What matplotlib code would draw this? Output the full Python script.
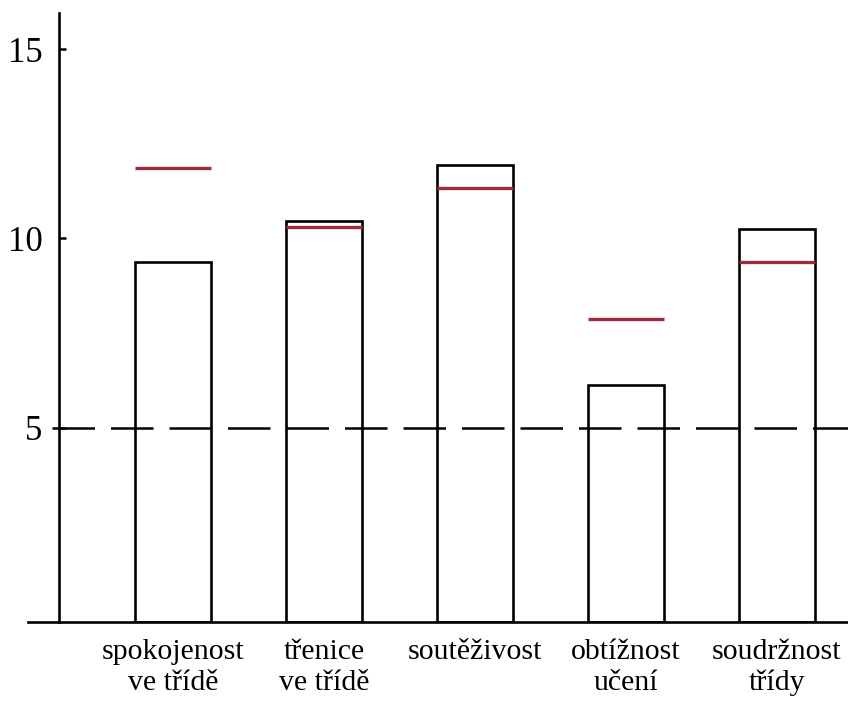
import matplotlib.pyplot as plt
import numpy as np

categories = ['spokojenost\nve třídě', 'třenice\nve třídě', 'soutěživost',
              'obtížnost\nučení', 'soudržnost\ntřídy']
bar_values = [9.38, 10.47, 11.95, 6.13, 10.26]
red_values = [11.87, 10.29, 11.32, 7.87, 9.37]
ref_level = 5
y_ticks = [5, 10, 15]

plt.rcParams['font.family'] = ['Liberation Serif', 'DejaVu Serif']

fig = plt.figure(figsize=(8.48, 7.01), dpi=100)
ax = fig.add_axes([28 / 848, 1 - 622 / 701, 1 - 28 / 848, (622 - 13) / 701])

x = np.arange(len(categories))
width = 0.5
y0 = -0.12  # baseline line sits a little under zero in the drawing

ax.bar(x, np.array(bar_values) - y0, bottom=y0, width=width,
       facecolor='white', edgecolor='black', linewidth=1.9, zorder=2)
ax.hlines(red_values, x - width / 2, x + width / 2, color='#9e2a3e',
          linewidth=2.4, zorder=3)

# dashed reference line at 5, drawn across the bars
ax.plot([-0.80, 4.47], [ref_level, ref_level], color='black', linewidth=1.8,
        dashes=(17, 6.4), zorder=4, clip_on=False)

ax.set_xlim(-0.96, 4.47)
ax.set_ylim(y0, 15.95)

for s in ['top', 'right']:
    ax.spines[s].set_visible(False)
ax.spines['left'].set_position(('data', -0.755))
ax.spines['left'].set_linewidth(1.9)
ax.spines['bottom'].set_linewidth(1.9)

ax.set_yticks(y_ticks)
ax.set_yticklabels([str(t) for t in y_ticks], fontsize=25)
ax.tick_params(axis='y', direction='in', length=5, width=1.8, pad=12)

ax.set_xticks(x)
ax.set_xticklabels(categories, fontsize=21.5, linespacing=1.25)
ax.tick_params(axis='x', length=0, pad=12)

fig.savefig('out.png', dpi=100)
